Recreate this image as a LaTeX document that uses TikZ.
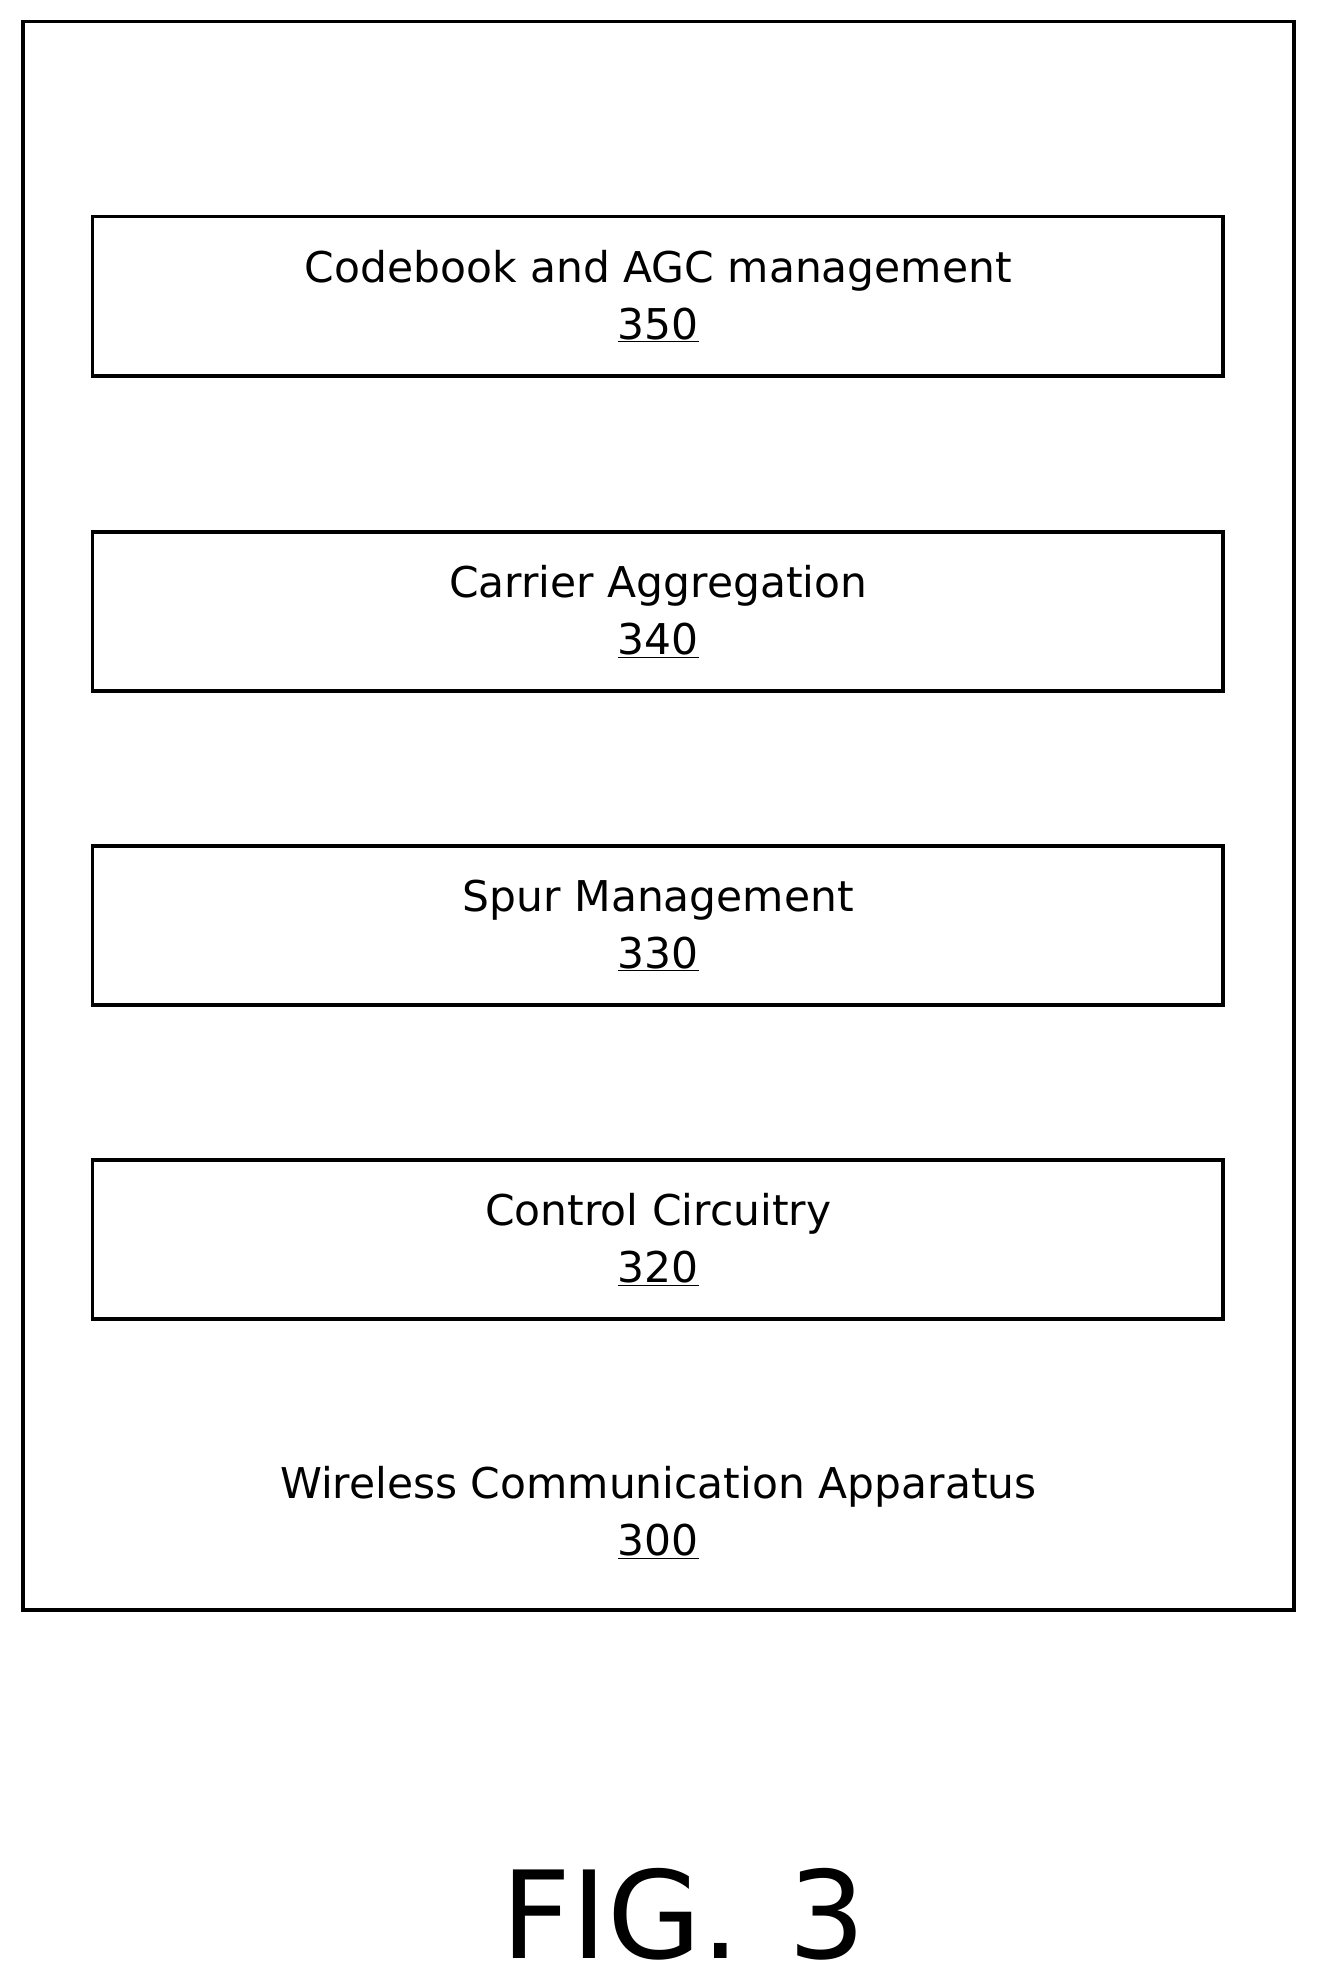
\documentclass[tikz,border=0pt]{standalone}
\usepackage{fontspec}
\setmainfont{DejaVu Sans}
\begin{document}
\begin{tikzpicture}[x=1pt,y=-1pt,
  blk/.style={draw,line width=3pt},
  lbl/.style={align=center,font=\fontsize{33.5}{45}\selectfont}]
\useasboundingbox (0,0) rectangle (1040,1568);
\draw[blk] (18,17) rectangle (1022,1272);
\foreach \y/\t/\n [count=\i] in {171/Codebook and AGC management/350,420/Carrier Aggregation/340,668/Spur Management/330,916/Control Circuitry/320}{
  \draw[blk] (73,\y) rectangle (966,\y+126);
  \node[lbl] (b\i) at (520,\y+63) {\t\\\underline{\n}};
}
\node[lbl] (app) at (520,1195) {Wireless Communication Apparatus\\\underline{300}};
\node[font=\fontsize{96}{100}\selectfont] (fig) at (540,1512) {FIG.\hspace{0.4em}3};
\end{tikzpicture}
\end{document}
